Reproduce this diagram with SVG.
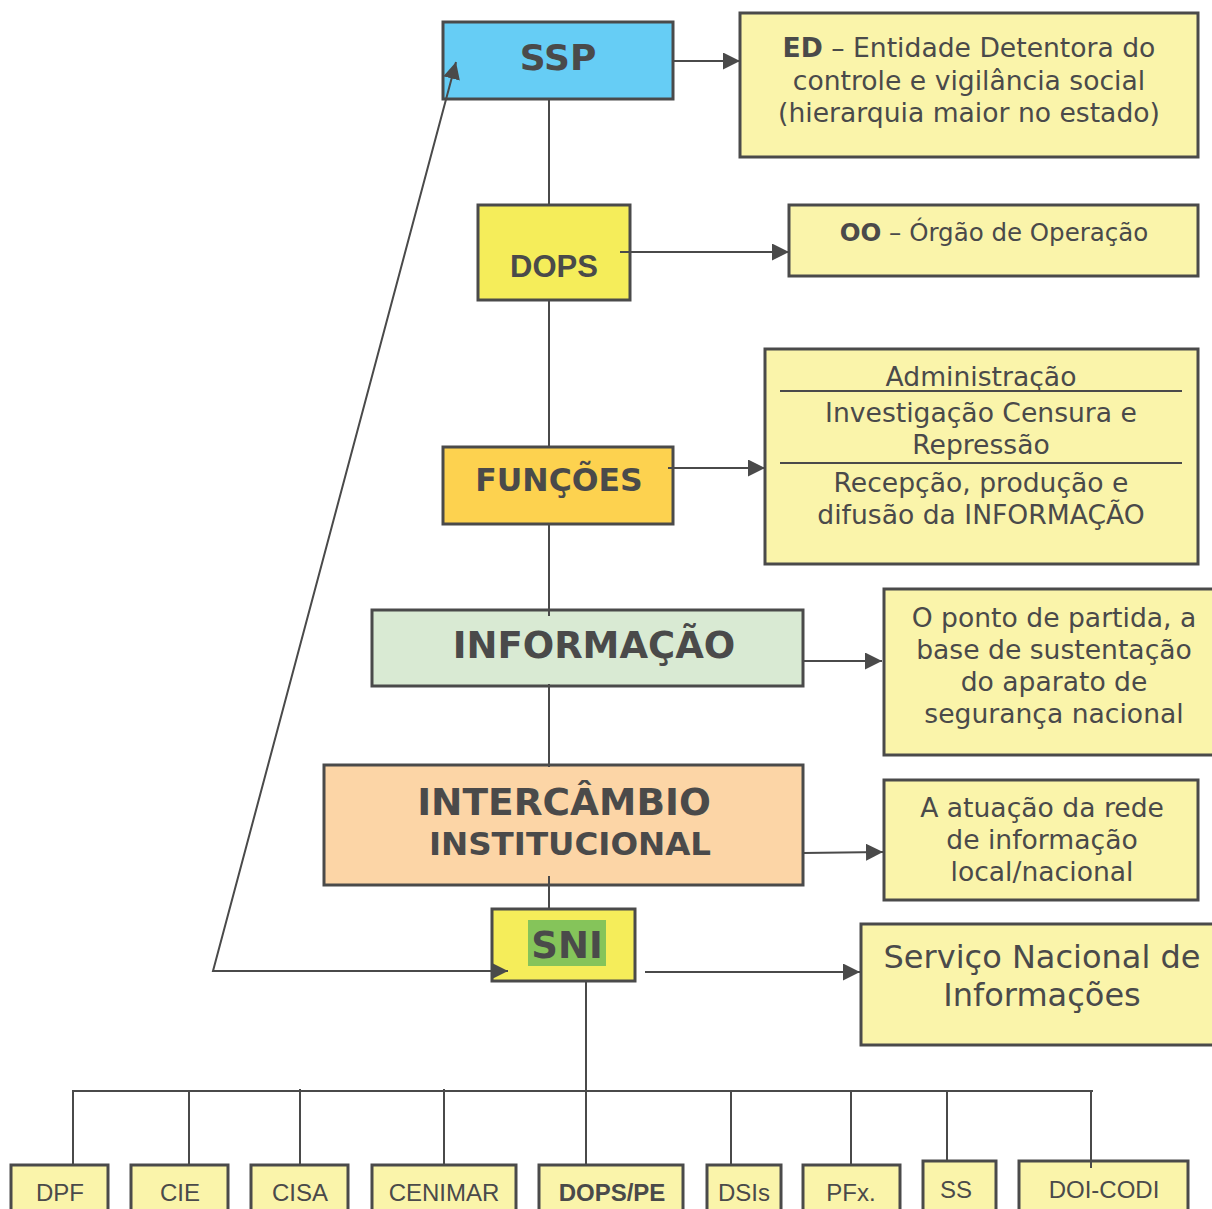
<svg xmlns="http://www.w3.org/2000/svg" width="1212" height="1209" viewBox="0 0 1212 1209">
<defs>
<style>
.box{stroke:#4a4a4a;stroke-width:3}
.note{fill:#faf4aa;stroke:#4a4a4a;stroke-width:3}
.leaf{fill:#faf4aa;stroke:#4a4a4a;stroke-width:3}
.ln{stroke:#4a4a4a;stroke-width:2;fill:none}
.t{font-family:"DejaVu Sans",Verdana,sans-serif;fill:#4a4a4a;text-anchor:middle}
.b{font-weight:bold}
.lf{font-family:"Liberation Sans",Arial,sans-serif;fill:#4a4a4a;text-anchor:middle;font-size:24px}
</style>
<marker id="ah" viewBox="0 0 10 10" refX="10" refY="5" markerWidth="17" markerHeight="17" markerUnits="userSpaceOnUse" orient="auto">
<path d="M0,0 L10,5 L0,10 z" fill="#4a4a4a"/>
</marker>
</defs>
<rect width="1212" height="1209" fill="#ffffff"/>

<g id="ssp"><rect class="box" x="443" y="22" width="230" height="77" fill="#66cdf5"/><text class="t b" x="558" y="70" font-size="36">SSP</text></g>
<g id="ed"><rect class="note" x="740" y="13" width="458" height="144"/>
<text class="t" x="969" y="57" font-size="26.6"><tspan font-weight="bold">ED</tspan> – Entidade Detentora do</text>
<text class="t" x="969" y="90" font-size="26.6">controle e vigilância social</text>
<text class="t" x="969" y="122" font-size="26.6">(hierarquia maior no estado)</text></g>

<g id="dops"><rect class="box" x="478" y="205" width="152" height="95" fill="#f5ed5a"/><text class="t b" x="554" y="277" font-size="31" style="font-family:'Liberation Sans',Arial,sans-serif">DOPS</text></g>
<g id="oo"><rect class="note" x="789" y="205" width="409" height="71"/>
<text class="t" x="994" y="241" font-size="24.5"><tspan font-weight="bold">OO</tspan> – Órgão de Operação</text></g>

<g id="funcoes"><rect class="box" x="443" y="447" width="230" height="77" fill="#fdd24f"/><text class="t b" x="559" y="491" font-size="31.5">FUNÇÕES</text></g>
<g id="funcoes-list"><rect class="note" x="765" y="349" width="433" height="215"/>
<text class="t" x="981" y="386" font-size="26.6">Administração</text>
<line class="ln" x1="780" y1="391" x2="1182" y2="391"/>
<text class="t" x="981" y="422" font-size="26.6">Investigação Censura e</text>
<text class="t" x="981" y="454" font-size="26.6">Repressão</text>
<line class="ln" x1="780" y1="463" x2="1182" y2="463"/>
<text class="t" x="981" y="492" font-size="26.6">Recepção, produção e</text>
<text class="t" x="981" y="524" font-size="26.6">difusão da INFORMAÇÃO</text></g>

<g id="informacao"><rect class="box" x="372" y="610" width="431" height="76" fill="#d9ead3"/><text class="t b" x="594" y="658" font-size="37">INFORMAÇÃO</text></g>
<g id="informacao-note"><rect class="note" x="884" y="589" width="332" height="166"/>
<text class="t" x="1054" y="627" font-size="26.6">O ponto de partida, a</text>
<text class="t" x="1054" y="659" font-size="26.6">base de sustentação</text>
<text class="t" x="1054" y="691" font-size="26.6">do aparato de</text>
<text class="t" x="1054" y="723" font-size="26.6">segurança nacional</text></g>

<g id="intercambio"><rect class="box" x="324" y="765" width="479" height="120" fill="#fcd5a6"/>
<text class="t b" x="564" y="815" font-size="37.5">INTERCÂMBIO</text>
<text class="t b" x="570" y="855" font-size="32.5">INSTITUCIONAL</text></g>
<g id="intercambio-note"><rect class="note" x="884" y="780" width="314" height="120"/>
<text class="t" x="1042" y="817" font-size="26.6">A atuação da rede</text>
<text class="t" x="1042" y="849" font-size="26.6">de informação</text>
<text class="t" x="1042" y="881" font-size="26.6">local/nacional</text></g>

<g id="sni"><rect class="box" x="492" y="909" width="143" height="72" fill="#f5ed5a"/>
<rect x="528" y="920" width="78" height="46" fill="#85c45a"/>
<text class="t b" x="567" y="958" font-size="37">SNI</text></g>
<g id="sni-note"><rect class="note" x="861" y="924" width="355" height="121"/>
<text class="t" x="1042" y="968" font-size="32">Serviço Nacional de</text>
<text class="t" x="1042" y="1006" font-size="32">Informações</text></g>

<g id="dpf"><rect class="leaf" x="11" y="1165" width="97" height="60"/><text class="lf" x="60" y="1201">DPF</text></g>
<g id="cie"><rect class="leaf" x="131" y="1165" width="97" height="60"/><text class="lf" x="180" y="1201">CIE</text></g>
<g id="cisa"><rect class="leaf" x="251" y="1165" width="97" height="60"/><text class="lf" x="300" y="1201">CISA</text></g>
<g id="cenimar"><rect class="leaf" x="372" y="1165" width="144" height="60"/><text class="lf" x="444" y="1201">CENIMAR</text></g>
<g id="dopspe"><rect class="leaf" x="539" y="1165" width="144" height="60"/><text class="lf" x="612" y="1201" font-weight="bold">DOPS/PE</text></g>
<g id="dsis"><rect class="leaf" x="707" y="1165" width="74" height="60"/><text class="lf" x="744" y="1201">DSIs</text></g>
<g id="pfx"><rect class="leaf" x="803" y="1165" width="97" height="60"/><text class="lf" x="851" y="1201">PFx.</text></g>
<g id="ss"><rect class="leaf" x="923" y="1161" width="73" height="60" stroke-width="4"/><text class="lf" x="956" y="1198">SS</text></g>
<g id="doicodi"><rect class="leaf" x="1019" y="1161" width="169" height="60"/><text class="lf" x="1104" y="1198">DOI-CODI</text></g>

<g id="connectors">
<line class="ln" x1="549" y1="99" x2="549" y2="205"/>
<line class="ln" x1="549" y1="300" x2="549" y2="447"/>
<line class="ln" x1="549" y1="524" x2="549" y2="616"/>
<line class="ln" x1="549" y1="684" x2="549" y2="767"/>
<line class="ln" x1="549" y1="876" x2="549" y2="909"/>
<line class="ln" x1="586" y1="981" x2="586" y2="1091"/>
<path class="ln" d="M73,1165 V1091 H1093"/>
<line class="ln" x1="189" y1="1091" x2="189" y2="1165"/>
<line class="ln" x1="300" y1="1089" x2="300" y2="1165"/>
<line class="ln" x1="444" y1="1089" x2="444" y2="1165"/>
<line class="ln" x1="586" y1="1091" x2="586" y2="1165"/>
<line class="ln" x1="731" y1="1091" x2="731" y2="1165"/>
<line class="ln" x1="851" y1="1091" x2="851" y2="1165"/>
<line class="ln" x1="947" y1="1091" x2="947" y2="1161"/>
<line class="ln" x1="1091" y1="1091" x2="1091" y2="1168"/>
<line class="ln" x1="673" y1="61" x2="740" y2="61" marker-end="url(#ah)"/>
<line class="ln" x1="620" y1="252" x2="789" y2="252" marker-end="url(#ah)"/>
<line class="ln" x1="668" y1="468" x2="765" y2="468" marker-end="url(#ah)"/>
<line class="ln" x1="803" y1="661" x2="882" y2="661" marker-end="url(#ah)"/>
<line class="ln" x1="803" y1="853" x2="883" y2="852" marker-end="url(#ah)"/>
<line class="ln" x1="645" y1="972" x2="860" y2="972" marker-end="url(#ah)"/>
<path class="ln" d="M508,971 H213 L456,62" marker-end="url(#ah)"/>
<line class="ln" x1="480" y1="971" x2="508" y2="971" marker-end="url(#ah)"/>
</g>
</svg>
